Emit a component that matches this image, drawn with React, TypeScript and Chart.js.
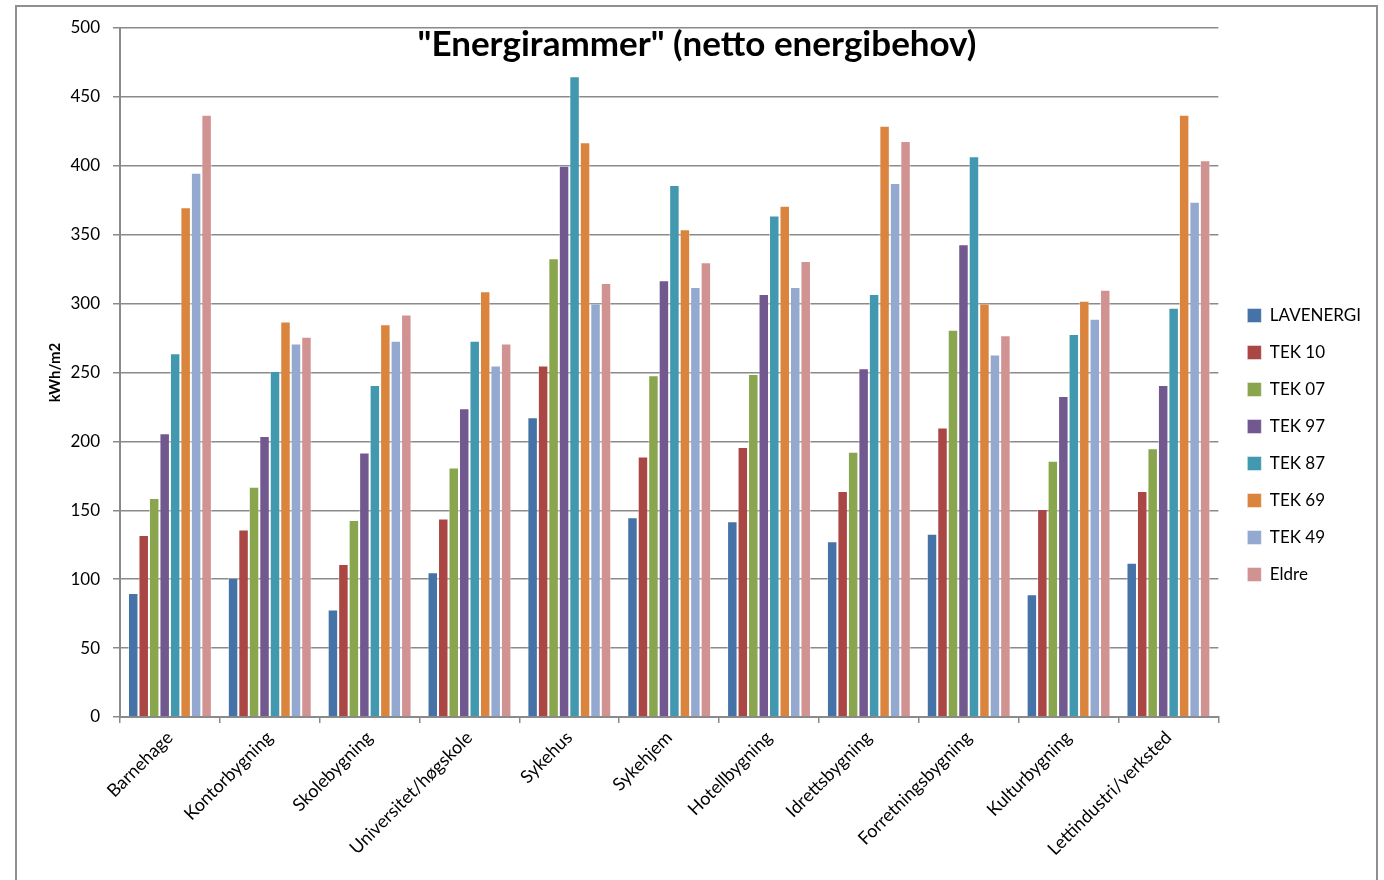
import React, { useEffect, useRef } from "react";
import { Chart, registerables } from "chart.js";

Chart.register(...registerables);

const categories = [
  "Barnehage",
  "Kontorbygning",
  "Skolebygning",
  "Universitet/høgskole",
  "Sykehus",
  "Sykehjem",
  "Hotellbygning",
  "Idrettsbygning",
  "Forretningsbygning",
  "Kulturbygning",
  "Lettindustri/verksted",
];

const seriesNames = ["LAVENERGI", "TEK 10", "TEK 07", "TEK 97", "TEK 87", "TEK 69", "TEK 49", "Eldre"];
const seriesColors = ["#4572A7", "#AA4643", "#89A54E", "#71588F", "#4198AF", "#DB843D", "#93A9CF", "#D19392"];

const lavenergi = [90, 101, 78, 105, 217.5, 145, 142, 127.5, 133, 89, 112];
const tek10 = [132, 136, 111, 144, 255, 189, 196, 164, 210, 151, 164];
const tek07 = [159, 167, 143, 181, 333, 248, 249, 192.5, 281, 186, 195];
const tek97 = [206, 204, 192, 224, 400, 317, 307, 253, 343, 233, 241];
const tek87 = [264, 251, 241, 273, 465, 386, 364, 307, 407, 278, 297];
const tek69 = [370, 287, 285, 309, 417, 354, 371, 429, 300, 302, 437];
const tek49 = [395, 271, 273, 255, 300, 312, 312, 387.5, 263, 289, 374];
const eldre = [437, 276, 292, 271, 315, 330, 331, 418, 277, 310, 404];

const seriesValues = [lavenergi, tek10, tek07, tek97, tek87, tek69, tek49, eldre];

const yTicks = [0, 50, 100, 150, 200, 250, 300, 350, 400, 450, 500];

const titleText = '"Energirammer" (netto energibehov)';
const yAxisTitle = "kWh/m2";

const FONT = "Lato";

export default function App() {
  const canvasRef = useRef<HTMLCanvasElement | null>(null);

  useEffect(() => {
    if (!canvasRef.current) return;

    const titlePlugin = {
      id: "innerTitle",
      afterDraw(chart: any) {
        const ctx = chart.ctx;
        ctx.save();
        ctx.font = `bold 35px ${FONT}`;
        ctx.fillStyle = "#000";
        ctx.textAlign = "center";
        ctx.textBaseline = "middle";
        ctx.fillText(titleText, 697, 45);
        ctx.restore();
      },
    };

    const legendShift = {
      id: "legendShift",
      afterLayout(chart: any) {
        const l = chart.legend;
        if (l) {
          l.left += 9;
          l.right += 9;
          l.top -= 9;
          l.bottom -= 9;
        }
      },
    };

    const chart = new Chart(canvasRef.current, {
      type: "bar",
      data: {
        labels: categories,
        datasets: seriesNames.map((name, i) => ({
          label: name,
          data: seriesValues[i],
          backgroundColor: seriesColors[i],
          borderColor: "rgba(255,255,255,0.45)",
          borderWidth: 1,
          categoryPercentage: 0.84,
          barPercentage: 1,
        })),
      },
      options: {
        responsive: false,
        animation: false,
        layout: { padding: { left: 0, top: 28, right: 22, bottom: 0 } },
        plugins: {
          title: { display: false },
          tooltip: { enabled: false },
          legend: {
            position: "right",
            labels: {
              boxWidth: 14,
              boxHeight: 14,
              padding: 20,
              color: "#000",
              font: { family: FONT, size: 17 },
            },
          },
        },
        scales: {
          x: {
            offset: true,
            afterFit: (s: any) => {
              s.height = 163;
            },
            grid: {
              display: true,
              offset: true,
              drawOnChartArea: false,
              drawTicks: true,
              tickLength: 6,
              color: "#8a8a8a",
              lineWidth: 1.5,
            },
            border: { display: true, color: "#8a8a8a", width: 2 },
            ticks: {
              autoSkip: false,
              maxRotation: 45,
              minRotation: 45,
              padding: 4,
              color: "#000",
              font: { family: FONT, size: 18 },
            },
          },
          y: {
            min: 0,
            max: 500,
            afterFit: (s: any) => {
              s.width = 120;
            },
            afterBuildTicks: (s: any) => {
              s.ticks = yTicks.map((v) => ({ value: v }));
            },
            grid: {
              color: "#8a8a8a",
              lineWidth: 1.5,
              drawTicks: true,
              tickLength: 7,
            },
            border: { display: true, color: "#8a8a8a", width: 2 },
            ticks: {
              padding: 13,
              color: "#000",
              font: { family: FONT, size: 17 },
            },
            title: {
              display: true,
              text: yAxisTitle,
              color: "#000",
              padding: { top: 46, bottom: 0 },
              font: { family: FONT, size: 15, weight: "bold" },
            },
          },
        },
      },
      plugins: [titlePlugin, legendShift],
    } as any);

    return () => chart.destroy();
  }, []);

  return (
    <div
      style={{
        position: "fixed",
        left: 0,
        top: 0,
        width: 1384,
        height: 880,
        overflow: "hidden",
        background: "#fff",
      }}
    >
      <div
        style={{
          position: "absolute",
          left: 15,
          top: 5,
          width: 1363,
          height: 900,
          border: "2px solid #8f8f8f",
          boxSizing: "border-box",
        }}
      />
      <canvas
        ref={canvasRef}
        width={1384}
        height={880}
        style={{ position: "absolute", left: 0, top: 0 }}
      />
    </div>
  );
}
